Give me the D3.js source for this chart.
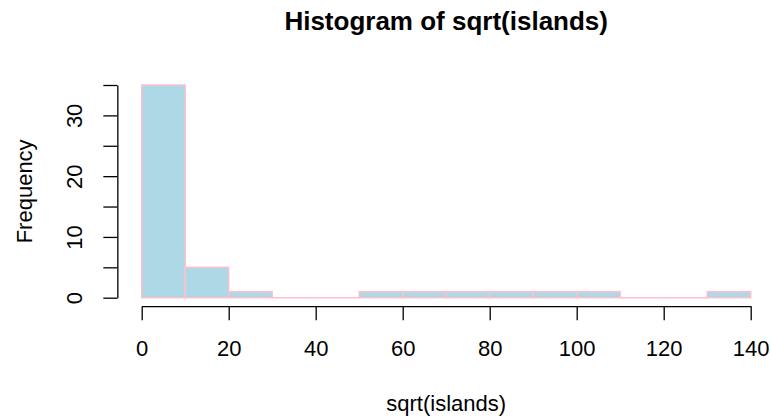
<!doctype html>
<html>
<head>
    <style>
        body { margin: 0; background: #fff; }
        text { font-family: "Liberation Sans", Arial, sans-serif; fill: #000; }
        .bar { fill: #add8e6; stroke: #ffc0cb; stroke-width: 1.5; }
        .empty { stroke: #ffc0cb; stroke-width: 1.5; }
    </style>
    <script src="https://d3js.org/d3.v7.min.js"></script>
</head>
<body>
<svg width="771" height="419" id="chart"></svg>
<script>
    // bin edges and counts of sqrt(islands)
    var binStart = [0, 10, 20, 30, 40, 50, 60, 70, 80, 90, 100, 110, 120, 130];
    var binEnd   = [10, 20, 30, 40, 50, 60, 70, 80, 90, 100, 110, 120, 130, 140];
    var counts   = [35, 5, 1, 0, 0, 1, 1, 1, 1, 1, 1, 0, 0, 1];
    var xTicks = [0, 20, 40, 60, 80, 100, 120, 140];
    var yTicks = [0, 5, 10, 15, 20, 25, 30, 35];
    var yLabels = [0, 10, 20, 30];

    var svg = d3.select("#chart");

    // R style: usr range is data range padded by 4%
    var x = d3.scaleLinear().domain([0, 140]).range([141.7, 750.7]);
    var y = d3.scaleLinear().domain([0, 35]).range([297.7, 85]);

    var plotLeft = x(-5.6), plotRight = x(145.6);
    var plotBottom = y(-1.4), plotTop = y(36.4);
    var midX = (plotLeft + plotRight) / 2;

    var bins = counts.map(function(c, i) {
        return { x0: binStart[i], x1: binEnd[i], n: c };
    });

    svg.selectAll(".bar")
        .data(bins.filter(function(d) { return d.n > 0; }))
        .enter().append("rect")
        .attr("class", "bar")
        .attr("x", function(d) { return x(d.x0); })
        .attr("y", function(d) { return y(d.n); })
        .attr("width", function(d) { return x(d.x1) - x(d.x0); })
        .attr("height", function(d) { return y(0) - y(d.n); });

    // empty bins still get their border drawn on the baseline
    svg.selectAll(".empty")
        .data(bins.filter(function(d) { return d.n === 0; }))
        .enter().append("line")
        .attr("class", "empty")
        .attr("x1", function(d) { return x(d.x0); })
        .attr("x2", function(d) { return x(d.x1); })
        .attr("y1", y(0))
        .attr("y2", y(0));

    // x axis
    var gx = svg.append("g")
        .attr("transform", "translate(0," + plotBottom + ")")
        .call(d3.axisBottom(x).tickValues(xTicks).tickSize(14).tickSizeOuter(0));
    gx.select(".domain").attr("stroke", "#000").attr("stroke-width", 1.3);
    gx.selectAll(".tick line").attr("stroke", "#000").attr("stroke-width", 1.3);
    gx.selectAll(".tick text")
        .attr("font-size", "22px")
        .attr("font-family", "Liberation Sans, Arial, sans-serif")
        .attr("dy", "0.71em").attr("y", 34);

    // y axis
    var gy = svg.append("g")
        .attr("transform", "translate(" + plotLeft + ",0)")
        .call(d3.axisLeft(y).tickValues(yTicks).tickSize(14).tickSizeOuter(0).tickFormat(function(d) {
            return yLabels.indexOf(d) >= 0 ? d : "";
        }));
    gy.select(".domain").attr("stroke", "#000").attr("stroke-width", 1.3);
    gy.selectAll(".tick line").attr("stroke", "#000").attr("stroke-width", 1.3);
    gy.selectAll(".tick text")
        .attr("font-size", "22px")
        .attr("font-family", "Liberation Sans, Arial, sans-serif")
        .attr("x", 0).attr("dy", 0)
        .attr("text-anchor", "middle")
        .attr("transform", "translate(-35,0) rotate(-90)");

    // title and labels
    svg.append("text")
        .attr("x", midX)
        .attr("y", 30)
        .attr("text-anchor", "middle")
        .attr("font-size", "26px")
        .attr("font-weight", "bold")
        .text("Histogram of sqrt(islands)");

    svg.append("text")
        .attr("x", midX)
        .attr("y", 411)
        .attr("text-anchor", "middle")
        .attr("font-size", "22px")
        .text("sqrt(islands)");

    svg.append("text")
        .attr("transform", "translate(32," + ((plotTop + plotBottom) / 2) + ") rotate(-90)")
        .attr("text-anchor", "middle")
        .attr("font-size", "22px")
        .text("Frequency");
</script>
</body>
</html>
